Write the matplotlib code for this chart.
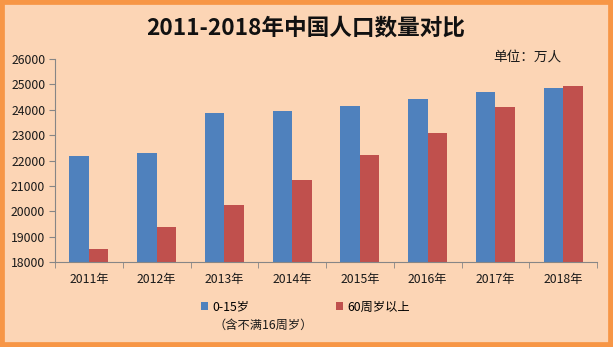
import numpy as np
import matplotlib
matplotlib.use("Agg")
from matplotlib import pyplot as plt
from matplotlib.patches import Rectangle

plt.rcParams['font.family'] = ['Noto Sans CJK SC', 'DejaVu Sans']

# Population data, unit: 10 thousand people
years = ['2011年', '2012年', '2013年', '2014年', '2015年', '2016年', '2017年', '2018年']
young = [22164, 22287, 23875, 23957, 24166, 24438, 24719, 24860]
old = [18499, 19390, 20243, 21242, 22200, 23086, 24090, 24949]
yticks = [18000, 19000, 20000, 21000, 22000, 23000, 24000, 25000, 26000]

W, H = 613, 347
bg = '#FCD5B5'
blue = '#4F81BD'
red = '#C0504D'
axis_gray = '#868686'
txt = '#1a1a1a'

fig = plt.figure(figsize=(W / 100, H / 100), dpi=100, facecolor=bg)

# orange frame round the whole picture
fig.patches.append(Rectangle((0, 0), 1, 1, transform=fig.transFigure,
                             fill=False, edgecolor='#F79646', linewidth=7))

ax = fig.add_axes([55 / W, (H - 262) / H, (597 - 55) / W, (262 - 59) / H])
ax.set_facecolor(bg)

x = np.arange(len(years))
w = 0.286
b1 = ax.bar(x - w / 2, young, w, color=blue, label='0-15岁')
b2 = ax.bar(x + w / 2, old, w, color=red, label='60周岁以上')

ax.set_xlim(-0.5, len(years) - 0.5)
ax.set_ylim(18000, 26000)
ax.set_yticks(yticks)
ax.set_yticklabels([str(v) for v in yticks], fontsize=8.8, color=txt)
ax.set_xticks(x)
ax.set_xticklabels(years, fontsize=8.8, color=txt)
ax.set_xticks(np.arange(len(years) + 1) - 0.5, minor=True)

for s in ['top', 'right']:
    ax.spines[s].set_visible(False)
for s in ['left', 'bottom']:
    ax.spines[s].set_color(axis_gray)
    ax.spines[s].set_linewidth(0.8)

ax.tick_params(axis='y', direction='out', length=4, color=axis_gray, pad=3)
ax.tick_params(axis='x', which='major', length=0, pad=8)
ax.tick_params(axis='x', which='minor', direction='out', length=4, color=axis_gray)

fig.text(306 / W, 1 - 28 / H, '2011-2018年中国人口数量对比', ha='center', va='center',
         fontsize=16.3, fontweight='bold', color='#111111')
fig.text(527 / W, 1 - 57 / H, '单位：万人', ha='center', va='center',
         fontsize=9.8, color=txt)

# one legend per series so each entry sits where it should
leg_kw = dict(loc='center left', frameon=False, fontsize=8.8, handlelength=0.55,
              handleheight=0.55, handletextpad=0.35, borderaxespad=0, borderpad=0)
fig.legend(handles=[b1], labels=['0-15岁'], bbox_to_anchor=(201 / W, 1 - 307 / H), **leg_kw)
fig.legend(handles=[b2], labels=['60周岁以上'], bbox_to_anchor=(336 / W, 1 - 307 / H), **leg_kw)
fig.text(214 / W, 1 - 325 / H, '（含不满16周岁）', ha='left', va='center',
         fontsize=8.8, color=txt)

fig.savefig('out.png', dpi=100, facecolor=bg)
